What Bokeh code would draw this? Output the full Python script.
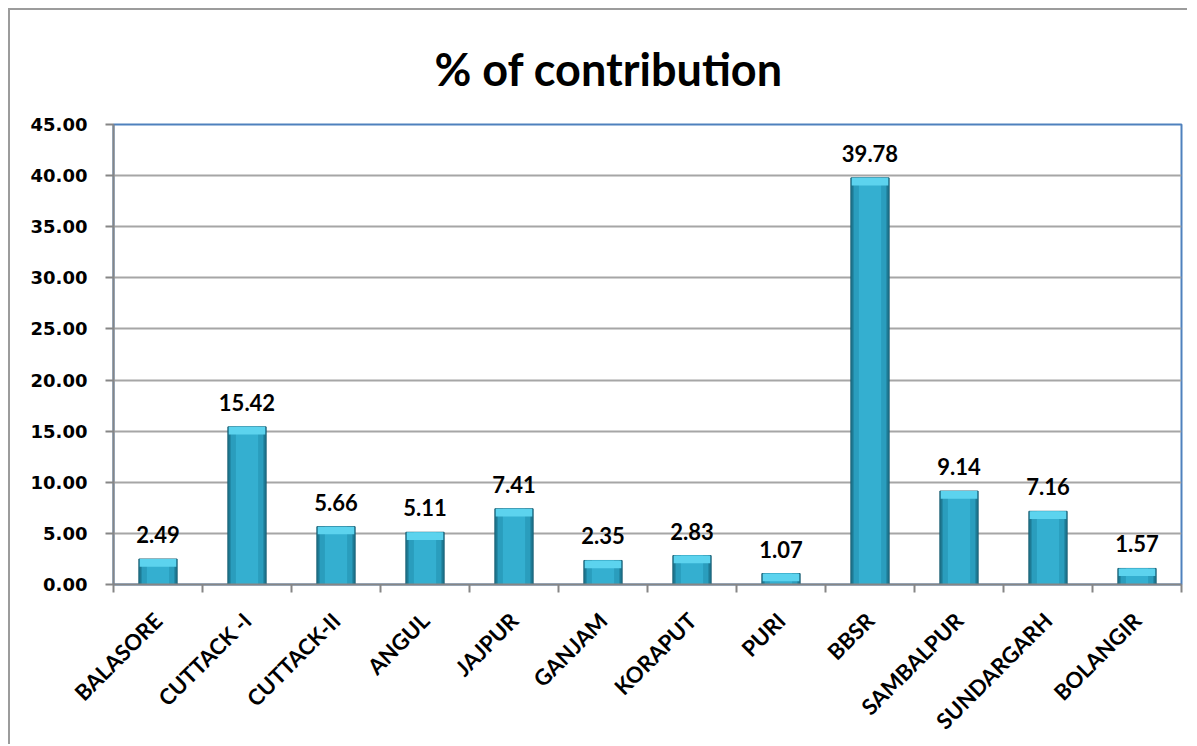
import math
from bokeh.plotting import figure
from bokeh.models import (ColumnDataSource, FixedTicker, Range1d, LabelSet, Title,
                          NumeralTickFormatter)
from bokeh.core.properties import value
from bokeh.embed import file_html
from bokeh.resources import INLINE

title_text = "% of contribution"
categories = ["BALASORE", "CUTTACK -I", "CUTTACK-II", "ANGUL", "JAJPUR", "GANJAM",
              "KORAPUT", "PURI", "BBSR", "SAMBALPUR", "SUNDARGARH", "BOLANGIR"]
contribution = [2.49, 15.42, 5.66, 5.11, 7.41, 2.35, 2.83, 1.07, 39.78, 9.14, 7.16, 1.57]
y_ticks = [0, 5, 10, 15, 20, 25, 30, 35, 40, 45]

n = len(categories)
centers = [i + 0.5 for i in range(n)]
bounds = [float(i) for i in range(n + 1)]

src = ColumnDataSource(dict(
    x=centers,
    top=contribution,
    cap_bottom=[v - 0.75 for v in contribution],
    label=[f"{v:.2f}" for v in contribution],
))

p = figure(width=1179, height=736, output_backend="svg", toolbar_location=None,
           x_range=Range1d(0, n), y_range=Range1d(0, 45),
           min_border_left=103, min_border_right=8, min_border_top=113, min_border_bottom=162,
           background_fill_color="white", border_fill_color="white")
p.styles = {"margin-left": "8px", "margin-top": "8px",
            "border-left": "2px solid #9c9c9c", "border-top": "2px solid #9c9c9c"}

p.outline_line_color = "#4f81bd"
p.outline_line_width = 2

# title
p.add_layout(Title(text=title_text, align="left", offset=321, standoff=58,
                   text_font="Lato", text_font_style="bold", text_font_size="45px",
                   text_color="black"), "above")

# grid
p.xgrid.grid_line_color = None
p.ygrid.grid_line_color = "#a6a6a6"
p.ygrid.grid_line_width = 2
p.ygrid.ticker = FixedTicker(ticks=y_ticks)

# y axis
p.yaxis.ticker = FixedTicker(ticks=y_ticks)
p.yaxis.formatter = NumeralTickFormatter(format="0.00")
p.yaxis.axis_line_color = "#868686"
p.yaxis.axis_line_width = 2
p.yaxis.major_tick_line_color = "#868686"
p.yaxis.major_tick_line_width = 2
p.yaxis.major_tick_out = 8
p.yaxis.major_tick_in = 0
p.yaxis.minor_tick_line_color = None
p.yaxis.major_label_text_font = "DejaVu Sans"
p.yaxis.major_label_text_font_style = "bold"
p.yaxis.major_label_text_font_size = "18px"
p.yaxis.major_label_text_color = "black"
p.yaxis.major_label_standoff = 18

# x axis
p.xaxis.ticker = FixedTicker(ticks=centers, minor_ticks=bounds)
p.xaxis.major_label_overrides = {c: name for c, name in zip(centers, categories)}
p.xaxis.axis_line_color = "#868686"
p.xaxis.axis_line_width = 2
p.xaxis.major_tick_line_color = None
p.xaxis.major_tick_out = 0
p.xaxis.minor_tick_line_color = "#868686"
p.xaxis.minor_tick_line_width = 2
p.xaxis.minor_tick_out = 8
p.xaxis.minor_tick_in = 0
p.xaxis.major_label_orientation = math.pi / 4
p.xaxis.major_label_text_font = "Lato"
p.xaxis.major_label_text_font_style = "bold"
p.xaxis.major_label_text_font_size = "22px"
p.xaxis.major_label_text_color = "black"
p.xaxis.major_label_standoff = 24

# bars (layered to mimic the cylinder shading)
p.vbar(x="x", top="top", bottom=0, width=0.43, source=src,
       fill_color="#1e7a94", line_color="#175c70", line_width=1)
p.vbar(x="x", top="top", bottom=0, width=0.37, source=src,
       fill_color="#2a9dbd", line_color=None)
p.vbar(x="x", top="top", bottom=0, width=0.25, source=src,
       fill_color="#34afd0", line_color=None)
p.vbar(x="x", top="top", bottom="cap_bottom", width=0.41, source=src,
       fill_color="#5cd3ee", line_color=None)

labels = LabelSet(x="x", y="top", text="label", source=src, y_offset=16,
                  text_align="center", text_baseline="bottom",
                  text_font=value("Lato"), text_font_style="bold", text_font_size="22px",
                  text_color="black")
p.add_layout(labels)

open("out.html", "w").write(file_html(p, INLINE))
